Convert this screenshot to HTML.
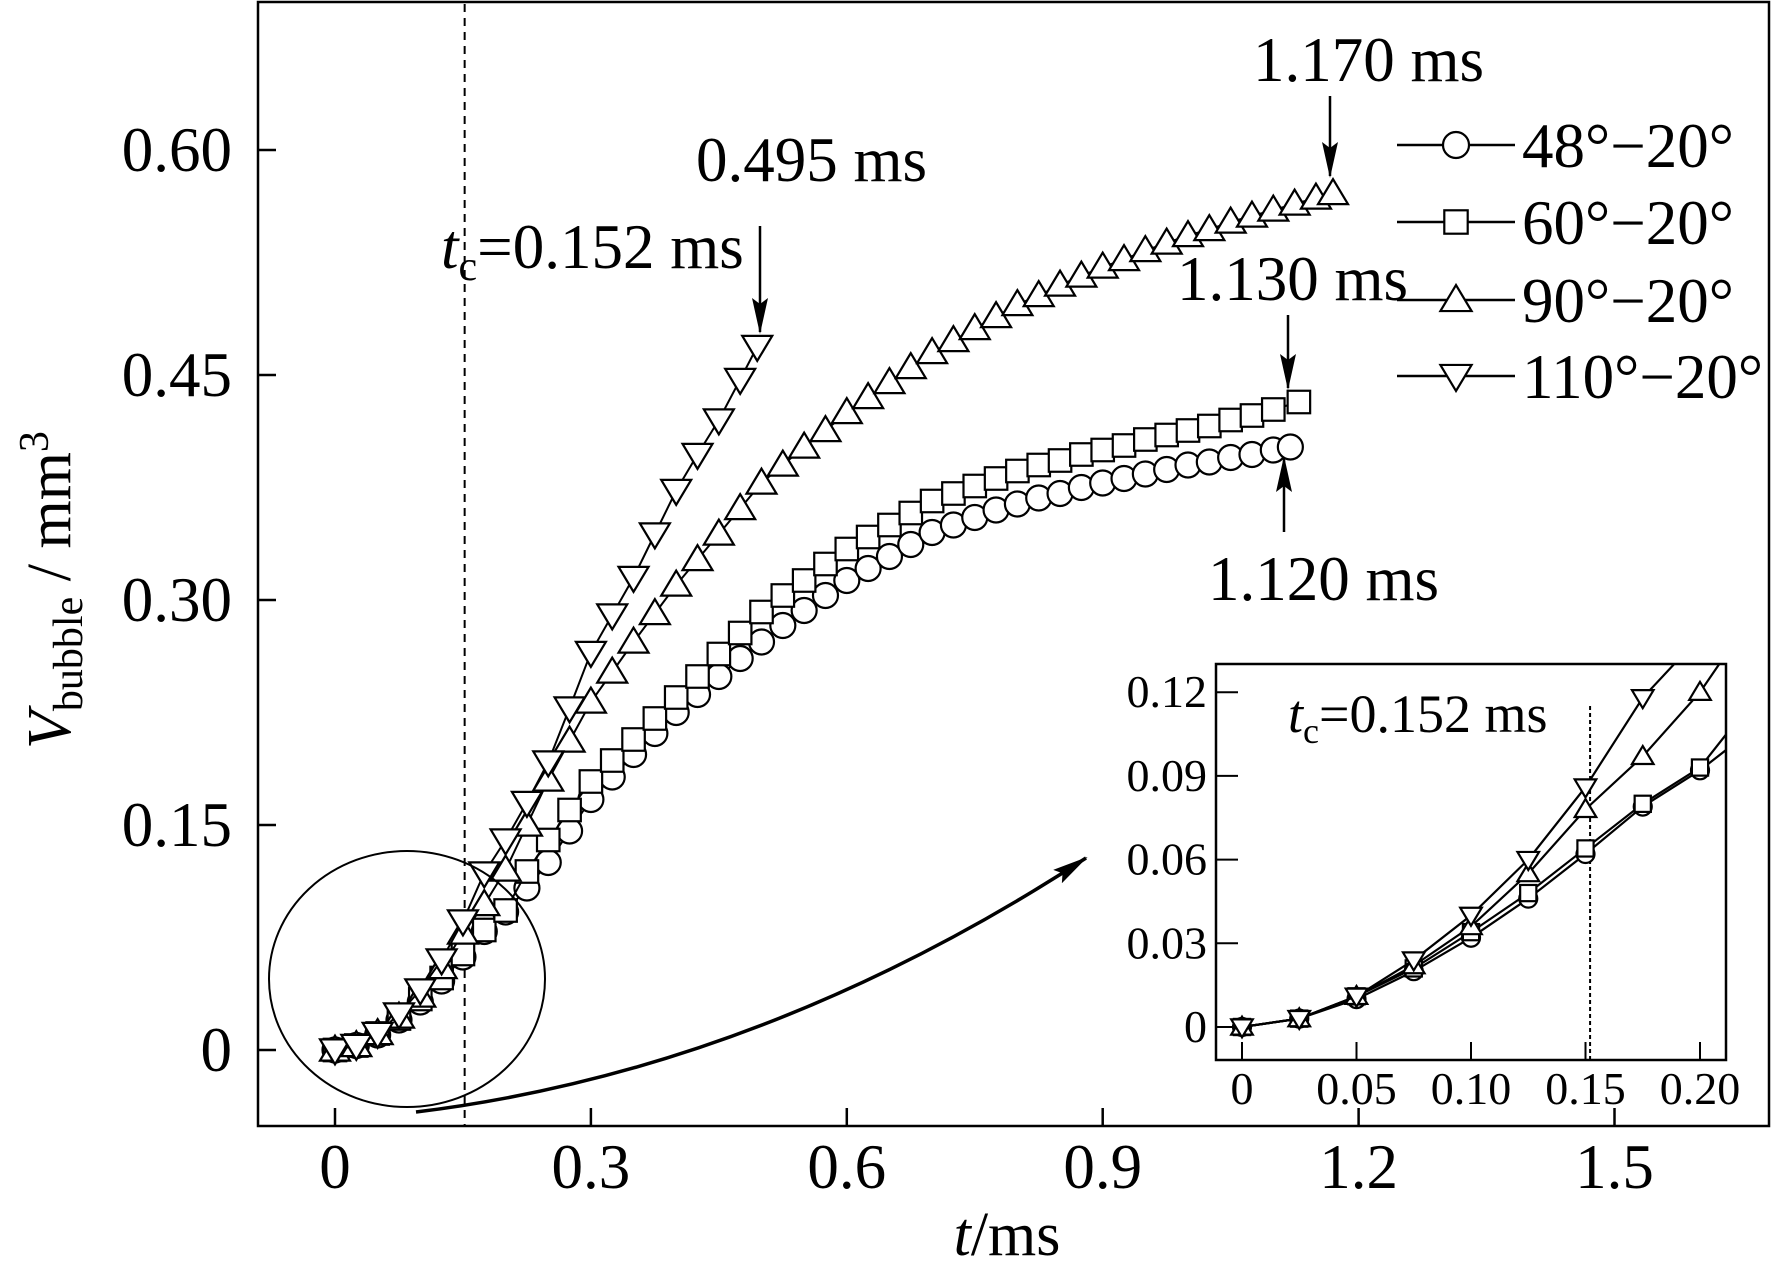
<!DOCTYPE html>
<html><head><meta charset="utf-8"><style>
html,body{margin:0;padding:0;background:#fff;}
svg{display:block;font-family:"Liberation Serif",serif;}
</style></head><body>
<svg id="chart" width="1773" height="1274" viewBox="0 0 1773 1274" xmlns="http://www.w3.org/2000/svg">
<defs>
<clipPath id="insetClip"><rect x="1216" y="664" width="510" height="396"/></clipPath>
<marker id="ah" markerWidth="16" markerHeight="36" refX="16" refY="7" orient="auto" markerUnits="userSpaceOnUse" viewBox="0 0 16 14"><path d="M0,0 L16,7 L0,14 Z" fill="#000"/></marker>
<marker id="ah2" markerWidth="36" markerHeight="16" refX="34" refY="8" orient="auto" markerUnits="userSpaceOnUse"><path d="M0,0 L36,8 L0,16 L6,8 Z" fill="#000"/></marker>
</defs>
<rect x="258" y="2" width="1511" height="1124" fill="none" stroke="#000" stroke-width="2.5"/>
<g id="main"></g>
<g id="inset"></g>
<text transform="translate(70,590) rotate(-90)" text-anchor="middle" font-size="62"><tspan font-style="italic">V</tspan><tspan font-size="42" dy="12">bubble</tspan><tspan dy="-12"> / mm</tspan><tspan font-size="42" dy="-22">3</tspan></text>
<text x="1007" y="1255" text-anchor="middle" font-size="62"><tspan font-style="italic">t</tspan>/ms</text>
<text x="696" y="181" font-size="63">0.495 ms</text>
<text x="441" y="268" font-size="63"><tspan font-style="italic">t</tspan><tspan font-size="42" dy="12">c</tspan><tspan dy="-12">=0.152 ms</tspan></text>
<text x="1253" y="81" font-size="63">1.170 ms</text>
<text x="1177" y="300" font-size="63">1.130 ms</text>
<text x="1208" y="600" font-size="63">1.120 ms</text>
<line x1="760" y1="226" x2="760" y2="332" stroke="#000" stroke-width="2.5" marker-end="url(#ah2)"/>
<line x1="1330" y1="96" x2="1330" y2="176" stroke="#000" stroke-width="2.5" marker-end="url(#ah2)"/>
<line x1="1288" y1="315" x2="1288" y2="388" stroke="#000" stroke-width="2.5" marker-end="url(#ah2)"/>
<line x1="1284" y1="532" x2="1284" y2="458" stroke="#000" stroke-width="2.5" marker-end="url(#ah2)"/>
<ellipse cx="407" cy="979" rx="138" ry="128" fill="none" stroke="#000" stroke-width="2"/>
<path d="M416,1112 Q760,1070 1086,858" fill="none" stroke="#000" stroke-width="3.5" marker-end="url(#ah2)"/>
<g id="legend"></g>
</svg>
<script>
const NS='http://www.w3.org/2000/svg';
const xTicks=[0,0.3,0.6,0.9,1.2,1.5];
const xTickLabels=['0','0.3','0.6','0.9','1.2','1.5'];
const yTicks=[0,0.15,0.30,0.45,0.60];
const yTickLabels=['0','0.15','0.30','0.45','0.60'];
const insetXTicks=[0,0.05,0.10,0.15,0.20];
const insetXLabels=['0','0.05','0.10','0.15','0.20'];
const insetYTicks=[0,0.03,0.06,0.09,0.12];
const insetYLabels=['0','0.03','0.06','0.09','0.12'];
const seriesNames=['48°−20°','60°−20°','90°−20°','110°−20°'];
const seriesMarkers=['circle','square','triangle','invtriangle'];
const t48=[0,.025,.05,.075,.1,.125,.15,.175,.2,.225,.25,.275,.3,.325,.35,.375,.4,.425,.45,.475,.5,.525,.55,.575,.6,.625,.65,.675,.7,.725,.75,.775,.8,.825,.85,.875,.9,.925,.95,.975,1.0,1.025,1.05,1.075,1.1,1.12];
const v48=[0,.003,.010,.020,.032,.046,.062,.079,.092,.108,.125,.146,.167,.182,.197,.211,.225,.237,.249,.261,.272,.283,.293,.303,.313,.321,.329,.337,.345,.350,.355,.360,.364,.368,.371,.375,.378,.381,.384,.387,.390,.392,.395,.397,.400,.402];
const t60=[0,.025,.05,.075,.1,.125,.15,.175,.2,.225,.25,.275,.3,.325,.35,.375,.4,.425,.45,.475,.5,.525,.55,.575,.6,.625,.65,.675,.7,.725,.75,.775,.8,.825,.85,.875,.9,.925,.95,.975,1.0,1.025,1.05,1.075,1.1,1.13];
const v60=[0,.003,.011,.021,.034,.048,.064,.080,.093,.119,.140,.160,.179,.193,.207,.221,.235,.249,.264,.278,.292,.303,.313,.324,.334,.342,.350,.358,.366,.371,.376,.381,.386,.390,.393,.397,.400,.403,.407,.410,.413,.416,.420,.423,.427,.432];
const t90=[0,.025,.05,.075,.1,.125,.15,.175,.2,.225,.25,.275,.3,.325,.35,.375,.4,.425,.45,.475,.5,.525,.55,.575,.6,.625,.65,.675,.7,.725,.75,.775,.8,.825,.85,.875,.9,.925,.95,.975,1.0,1.025,1.05,1.075,1.1,1.125,1.15,1.17];
const v90=[0,.003,.011,.022,.036,.055,.078,.097,.120,.150,.180,.206,.232,.252,.272,.291,.310,.327,.344,.361,.378,.390,.402,.413,.425,.435,.445,.455,.465,.473,.481,.489,.497,.503,.510,.516,.522,.527,.533,.538,.543,.547,.552,.556,.560,.564,.568,.571];
const t110=[0,.025,.05,.075,.1,.125,.15,.175,.2,.225,.25,.275,.3,.325,.35,.375,.4,.425,.45,.475,.495];
const v110=[0,.003,.011,.024,.040,.060,.086,.118,.140,.165,.192,.228,.265,.290,.315,.344,.373,.397,.420,.447,.469];
const allT=[t48,t60,t90,t110], allV=[v48,v60,v90,v110];

const X=t=>335+t*853, Y=v=>1050-v*1500;
const IX=t=>1242+t*2290, IY=v=>1027-v*2790;

function mk(tag,attrs,parent){const e=document.createElementNS(NS,tag);for(const k in attrs)e.setAttribute(k,attrs[k]);parent.appendChild(e);return e;}
function marker(type,x,y,s,parent){
  let e;
  if(type==='circle') e=mk('circle',{cx:x,cy:y,r:s},parent);
  else if(type==='square') e=mk('rect',{x:x-s*0.9,y:y-s*0.9,width:s*1.8,height:s*1.8},parent);
  else if(type==='triangle') e=mk('polygon',{points:`${x},${y-s*1.15} ${x-s*1.2},${y+s*0.85} ${x+s*1.2},${y+s*0.85}`},parent);
  else e=mk('polygon',{points:`${x},${y+s*1.15} ${x-s*1.2},${y-s*0.85} ${x+s*1.2},${y-s*0.85}`},parent);
  e.setAttribute('fill','#fff');e.setAttribute('stroke','#000');e.setAttribute('stroke-width','2.2');
  return e;
}
const main=document.getElementById('main');
const dl=mk('line',{x1:X(0.152),x2:X(0.152),y1:4,y2:1126,stroke:'#000','stroke-width':2,'stroke-dasharray':'8,6'},main);


xTicks.forEach((t,i)=>{
  const l=mk('line',{x1:X(t),x2:X(t),y1:1126,y2:1108,stroke:'#000','stroke-width':2.5},main);
  
  
  const tx=mk('text',{x:X(t),y:1188,'text-anchor':'middle','font-size':63},main);
  tx.textContent=xTickLabels[i];
  
  
});
yTicks.forEach((v,i)=>{
  const l=mk('line',{x1:258,x2:276,y1:Y(v),y2:Y(v),stroke:'#000','stroke-width':2.5},main);
  
  
  const tx=mk('text',{x:232,y:Y(v)+21,'text-anchor':'end','font-size':63},main);
  tx.textContent=yTickLabels[i];
  
  
});
allT.forEach((ts,si)=>{
  const g=mk('g',{},main);
  
  
  const pl=mk('polyline',{points:ts.map((t,i)=>X(t)+','+Y(allV[si][i])).join(' '),fill:'none',stroke:'#000','stroke-width':2},g);
  
  
  ts.forEach((t,i)=>{const m=marker(seriesMarkers[si],X(t),Y(allV[si][i]),12.5,g);
    
    });
});
const inset=document.getElementById('inset');
const ir=mk('rect',{x:1216,y:664,width:510,height:396,fill:'#fff',stroke:'#000','stroke-width':2.5},inset);


const idl=mk('line',{x1:IX(0.152),x2:IX(0.152),y1:706,y2:1060,stroke:'#000','stroke-width':2,'stroke-dasharray':'4,3'},inset);


insetXTicks.forEach((t,i)=>{
  const l=mk('line',{x1:IX(t),x2:IX(t),y1:1060,y2:1042,stroke:'#000','stroke-width':2},inset);
  
  
  const tx=mk('text',{x:IX(t),y:1104,'text-anchor':'middle','font-size':46},inset);
  tx.textContent=insetXLabels[i];
  
  
});
insetYTicks.forEach((v,i)=>{
  const l=mk('line',{x1:1216,x2:1238,y1:IY(v),y2:IY(v),stroke:'#000','stroke-width':2},inset);
  
  
  const tx=mk('text',{x:1207,y:IY(v)+15,'text-anchor':'end','font-size':46},inset);
  tx.textContent=insetYLabels[i];
  
  
});
const ig=mk('g',{'clip-path':'url(#insetClip)'},inset);
allT.forEach((ts,si)=>{
  const g=mk('g',{},ig);
  
  
  const n=ts.filter(t=>t<=0.25).length;
  mk('polyline',{points:ts.slice(0,n).map((t,i)=>IX(t)+','+IY(allV[si][i])).join(' '),fill:'none',stroke:'#000','stroke-width':2.2},g);
  ts.forEach((t,i)=>{if(t<=0.2){const m=marker(seriesMarkers[si],IX(t),IY(allV[si][i]),9,g);
    
    }});
});
const it=mk('text',{x:1288,y:732,'font-size':54},inset);
it.innerHTML='<tspan font-style="italic">t</tspan><tspan font-size="36" dy="11">c</tspan><tspan dy="-11">=0.152 ms</tspan>';


const leg=document.getElementById('legend');
const rowsY=[145,222,300,376];
seriesNames.forEach((nm,i)=>{
  const g=mk('g',{},leg);
  
  
  mk('line',{x1:1397,x2:1515,y1:rowsY[i],y2:rowsY[i],stroke:'#000','stroke-width':2.5},g);
  marker(seriesMarkers[i],1456,rowsY[i],13,g);
  const tx=mk('text',{x:1522,y:rowsY[i]+22,'font-size':63},g);
  tx.textContent=nm;
});
</script>
</body></html>
